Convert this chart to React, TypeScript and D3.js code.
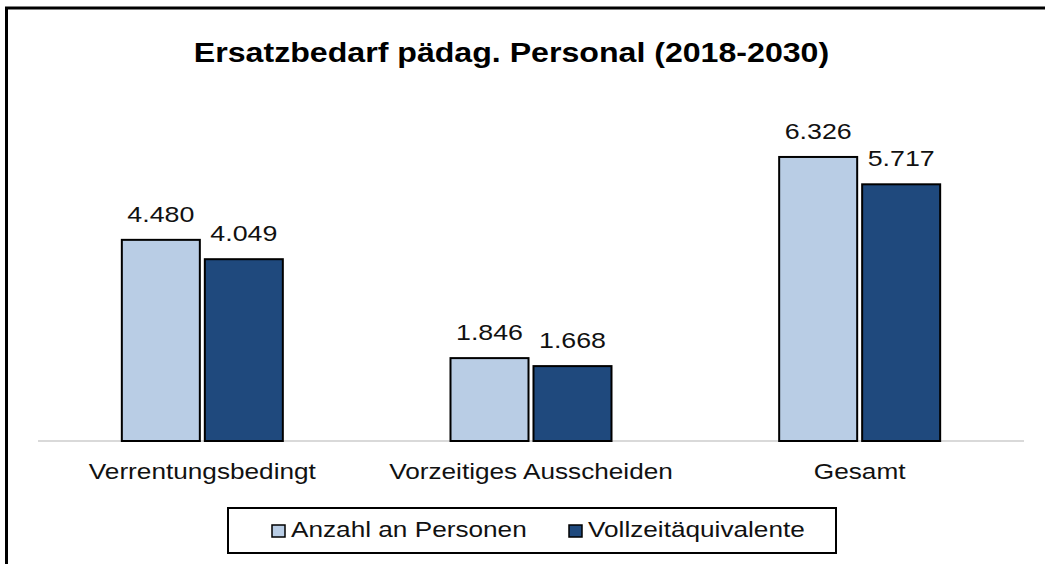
import React from "react";
import { scaleBand, scaleLinear, format } from "d3";

const categories = ["Verrentungsbedingt", "Vorzeitiges Ausscheiden", "Gesamt"];
const seriesNames = ["Anzahl an Personen", "Vollzeitäquivalente"];
const personen = [4480, 1846, 6326];
const vze = [4049, 1668, 5717];
const seriesValues = [personen, vze];
const seriesColors = ["#b9cde5", "#1f497d"];

const width = 1045;
const height = 564;
const font = "'Liberation Sans', Arial, sans-serif";
const sx = 1.19; // the picture is stretched a bit horizontally

// German thousands separator
const fmt = (v: number) => format(",")(v).replace(/,/g, ".");

export default function App() {
  const baseline = 441;
  const x0 = scaleBand<string>().domain(categories).range([38, 1024]).padding(0);
  const groupWidth = 161;
  const inset = (x0.bandwidth() - groupWidth) / 2;
  const x1 = scaleBand<string>()
    .domain(seriesNames)
    .range([inset, inset + groupWidth])
    .paddingInner(0.06);
  const y = scaleLinear().domain([0, 7000]).range([baseline, baseline - 7000 * 0.0449]);

  const legend = { x: 228, y: 508, w: 608, h: 45 };
  const legendItems = [272, 569];

  const stretched = (x: number, yy: number) => `translate(${x},${yy}) scale(${sx},1)`;

  return (
    <svg
      width={width}
      height={height}
      style={{ position: "absolute", left: 0, top: 0, background: "#fff" }}
      fontFamily={font}
    >
      <rect x={0} y={0} width={width} height={height} fill="#fff" />
      {/* outer frame, cut off at the right and bottom */}
      <rect x={6.5} y={8} width={1200} height={700} fill="none" stroke="#000" strokeWidth={3} />

      <text
        transform={stretched(511.5, 61.5)}
        textAnchor="middle"
        fontSize={27}
        fontWeight="bold"
        fill="#000"
      >
        Ersatzbedarf pädag. Personal (2018-2030)
      </text>

      <line x1={38} x2={1024} y1={baseline} y2={baseline} stroke="#d9d9d9" strokeWidth={2} />

      {categories.map((c, i) => (
        <g key={c} transform={`translate(${x0(c)},0)`}>
          {seriesNames.map((s, j) => {
            const v = seriesValues[j][i];
            const bx = x1(s)!;
            return (
              <g key={s}>
                <rect
                  x={bx}
                  y={y(v)}
                  width={x1.bandwidth()}
                  height={baseline - y(v)}
                  fill={seriesColors[j]}
                  stroke="#000"
                  strokeWidth={2}
                />
                <text
                  transform={stretched(bx + x1.bandwidth() / 2, y(v) - 18)}
                  textAnchor="middle"
                  fontSize={22.5}
                  fill="#111"
                >
                  {fmt(v)}
                </text>
              </g>
            );
          })}
          <text
            transform={stretched(x0.bandwidth() / 2, 478.5)}
            textAnchor="middle"
            fontSize={22}
            fill="#111"
          >
            {c}
          </text>
        </g>
      ))}

      <rect
        x={legend.x}
        y={legend.y}
        width={legend.w}
        height={legend.h}
        fill="#fff"
        stroke="#000"
        strokeWidth={2}
      />
      {seriesNames.map((s, j) => (
        <g key={s}>
          <rect
            x={legendItems[j]}
            y={525}
            width={13}
            height={12}
            fill={seriesColors[j]}
            stroke="#000"
            strokeWidth={1.5}
          />
          <text transform={stretched(legendItems[j] + 19, 537)} fontSize={22} fill="#111">
            {s}
          </text>
        </g>
      ))}
    </svg>
  );
}
